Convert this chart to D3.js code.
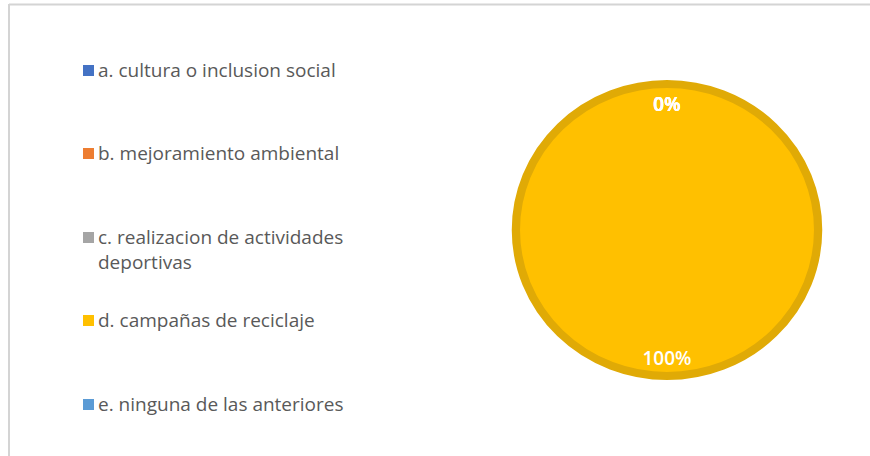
<!DOCTYPE html>
<html><head><meta charset="utf-8">
<script src="https://cdn.jsdelivr.net/npm/d3@7"></script>
<style>body{margin:0;background:#fff}svg{display:block}</style>
</head><body>
<svg id="c" width="870" height="456"></svg>
<script>
const categories = ["a. cultura o inclusion social","b. mejoramiento ambiental","c. realizacion de actividades deportivas","d. campañas de reciclaje","e. ninguna de las anteriores"];
const legendLines = [["a. cultura o inclusion social"],["b. mejoramiento ambiental"],["c. realizacion de actividades","deportivas"],["d. campañas de reciclaje"],["e. ninguna de las anteriores"]];
const values = [0, 0, 0, 100, 0];
const colors = ["#4472C4","#ED7D31","#A5A5A5","#FFC000","#5B9BD5"];
const labelTexts = ["0%","0%","0%","100%","0%"];

const svg = d3.select("#c");
// chart frame
svg.append("line").attr("x1",9).attr("x2",870).attr("y1",4.5).attr("y2",4.5).attr("stroke","#d4d4d4").attr("stroke-width",2);
svg.append("line").attr("x1",9).attr("x2",9).attr("y1",4).attr("y2",456).attr("stroke","#d4d4d4").attr("stroke-width",2);

// legend
const legY = [70,153,237,320,404];
const leg = svg.append("g").attr("font-family","'Open Sans', 'Noto Sans', sans-serif").attr("font-size",19).attr("fill","#595959");
categories.forEach((c,i)=>{
  const g = leg.append("g").attr("transform",`translate(83,${legY[i]})`);
  g.append("rect").attr("x",0).attr("y",-5).attr("width",11).attr("height",11).attr("fill",colors[i]);
  legendLines[i].forEach((t,j)=>{
    g.append("text").attr("x",15).attr("y",j*25).attr("dy","0.35em").text(t);
  });
});

// pie
const cx = 667, cy = 230, R = 150;
const pie = d3.pie().sort(null).value(d=>d);
const arcs = pie(values);
const arc = d3.arc().innerRadius(0).outerRadius(R-4);
const pg = svg.append("g").attr("transform",`translate(${cx},${cy}) scale(1.035,1)`);
pg.selectAll("path").data(arcs.filter(d=>d.value>0)).join("path")
  .attr("d",arc).attr("fill",(d)=>colors[d.index]).attr("stroke","#E0AA06").attr("stroke-width",8);
const lg = svg.append("g").attr("transform",`translate(${cx},${cy})`);
lg.selectAll("text").data(arcs).join("text")
  .attr("transform",d=>{const a=(d.startAngle+d.endAngle)/2; const r=d.value>0?R*0.855:R*0.84; return `translate(${Math.sin(a)*r},${-Math.cos(a)*r})`;})
  .attr("text-anchor","middle").attr("dy","0.35em")
  .attr("font-family","'Open Sans', sans-serif").attr("font-size",19).attr("font-weight",600).attr("fill","#fff")
  .text((d,i)=>labelTexts[i]);
</script>
</body></html>
